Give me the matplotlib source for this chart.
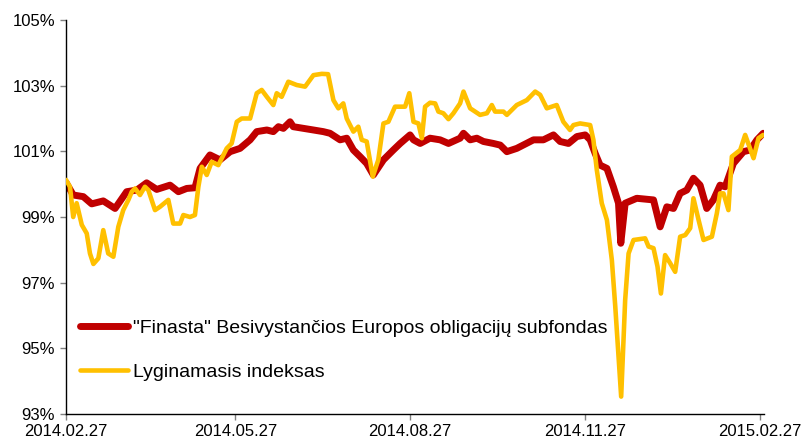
#!/usr/bin/env python3
# Finasta fondas vs lyginamasis indeksas, 2014.02.27 - 2015.02.27

import numpy as np
import pandas as pd
import matplotlib
matplotlib.use("Agg")
import matplotlib.pyplot as plt
import matplotlib.dates as mdates
from matplotlib.ticker import FuncFormatter

plt.rcParams['font.family'] = ['Liberation Sans', 'DejaVu Sans']

pradzia = pd.Timestamp("2014-02-27")

# dienos nuo 2014.02.27 ir reiksmes (%)
fondas_dienos = [0, 3.8, 9.1, 13.5, 19.6, 25.8, 31.9, 37.2, 42.4, 47.7, 54.7, 59.1,
                 63.5, 67.8, 70.5, 75.7, 81.0, 86.3, 91.5, 96.8, 100.3, 105.6, 109.0,
                 111.7, 114.3, 117.8, 119.5, 124.8, 130.1, 135.3, 138.8, 144.1, 147.6,
                 151.1, 154.6, 158.1, 161.6, 166.9, 172.1, 175.7, 180.9, 182.7, 186.2,
                 191.4, 196.7, 201.1, 207.2, 209.0, 212.5, 216.0, 219.5, 224.7, 228.3,
                 231.8, 237.0, 245.8, 251.0, 256.3, 259.8, 264.2, 268.6, 273.0, 275.6,
                 278.2, 280.8, 284.4, 287.8, 290.5, 291.7, 294.0, 300.1, 308.9, 312.4,
                 315.9, 319.4, 322.9, 326.4, 329.9, 333.4, 336.9, 340.4, 343.9, 346.6,
                 350.9, 356.2, 359.7, 363.3, 366.6]
fondas = [100.05, 99.67, 99.62, 99.40, 99.49, 99.26, 99.77, 99.82, 100.04, 99.84, 99.97,
          99.77, 99.87, 99.89, 100.48, 100.89, 100.74, 100.99, 101.09, 101.35, 101.60,
          101.65, 101.60, 101.75, 101.70, 101.90, 101.75, 101.70, 101.65, 101.60, 101.55,
          101.35, 101.40, 101.04, 100.84, 100.63, 100.28, 100.74, 101.04, 101.24, 101.50,
          101.35, 101.24, 101.40, 101.35, 101.24, 101.40, 101.55, 101.35, 101.40, 101.30,
          101.24, 101.19, 100.99, 101.09, 101.35, 101.35, 101.50, 101.30, 101.24, 101.45,
          101.50, 101.35, 100.94, 100.58, 100.48, 99.92, 99.42, 98.20, 99.42, 99.57,
          99.52, 98.70, 99.31, 99.26, 99.72, 99.82, 100.18, 99.97, 99.26, 99.52, 99.97,
          99.92, 100.63, 100.99, 101.04, 101.35, 101.55]

indeksas_dienos = [0, 2.1, 3.8, 5.6, 8.3, 10.9, 12.6, 14.4, 17.0, 19.6, 22.2, 24.9, 27.5,
                   30.1, 32.8, 34.6, 36.3, 38.9, 41.5, 43.3, 46.8, 49.4, 53.8, 56.4, 60.0,
                   61.7, 65.2, 67.8, 69.6, 71.4, 74.0, 76.6, 80.1, 84.5, 87.1, 89.8, 92.4,
                   96.8, 100.3, 102.9, 105.6, 109.0, 110.8, 113.4, 116.9, 121.3, 125.7,
                   130.1, 134.5, 137.8, 140.6, 143.2, 145.8, 147.6, 151.1, 153.7, 155.5,
                   158.1, 161.3, 164.2, 166.9, 169.5, 173.0, 178.3, 180.5, 182.7, 185.3,
                   187.1, 188.8, 191.4, 194.1, 195.8, 198.4, 201.1, 203.7, 207.2, 209.0,
                   212.5, 215.1, 217.7, 221.3, 223.9, 225.6, 230.0, 231.8, 234.4, 237.0,
                   242.3, 246.7, 249.3, 252.8, 258.0, 261.5, 265.0, 266.8, 270.3, 275.6,
                   277.3, 279.1, 281.7, 284.4, 287.0, 288.8, 291.9, 294.0, 295.8, 298.4,
                   304.5, 306.3, 308.9, 311.0, 312.8, 315.0, 317.7, 320.3, 322.9, 325.6,
                   328.2, 329.9, 332.6, 335.2, 339.6, 342.2, 343.9, 345.7, 348.3, 350.1,
                   354.5, 357.1, 361.5, 364.1, 366.6]
indeksas = [100.13, 99.92, 99.00, 99.42, 98.76, 98.50, 97.89, 97.57, 97.74, 98.60, 97.89,
            97.79, 98.70, 99.21, 99.52, 99.77, 99.87, 99.67, 99.92, 99.82, 99.21, 99.31,
            99.52, 98.80, 98.80, 99.06, 99.00, 99.06, 99.92, 100.53, 100.28, 100.68,
            100.58, 101.09, 101.24, 101.90, 102.00, 102.00, 102.77, 102.87, 102.66,
            102.41, 102.77, 102.66, 103.12, 103.02, 102.97, 103.32, 103.36, 103.35,
            102.56, 102.31, 102.46, 102.00, 101.60, 101.75, 101.35, 101.30, 100.23,
            100.74, 101.85, 101.90, 102.36, 102.36, 102.77, 101.90, 101.85, 101.40,
            102.36, 102.48, 102.46, 102.21, 102.16, 101.98, 102.16, 102.46, 102.82,
            102.31, 102.21, 102.11, 102.16, 102.41, 102.21, 102.21, 102.11, 102.26,
            102.41, 102.56, 102.82, 102.72, 102.31, 102.41, 101.90, 101.65, 101.80,
            101.85, 101.80, 101.35, 100.43, 99.42, 98.91, 97.69, 96.27, 93.53, 96.47,
            97.89, 98.30, 98.35, 98.10, 98.05, 97.49, 96.67, 97.84, 97.59, 97.33, 98.40,
            98.45, 98.66, 99.57, 98.91, 98.30, 98.40, 99.11, 99.72, 99.72, 99.21, 100.84,
            101.04, 101.50, 100.79, 101.40, 101.50]

etiketes = ['"Finasta" Besivystančios Europos obligacijų subfondas', 'Lyginamasis indeksas']
x_zymes = ["2014-02-27", "2014-05-27", "2014-08-27", "2014-11-27", "2015-02-27"]
y_zymes = [93, 95, 97, 99, 101, 103, 105]


def datos(dienos):
    return pradzia + pd.to_timedelta(np.array(dienos), unit="D")


fig = plt.figure(figsize=(8.02, 4.43), dpi=100)
ax = fig.add_axes([66 / 802, 1 - 414 / 443, 698 / 802, 394 / 443])

ax.plot(datos(fondas_dienos), fondas, color="#C00000", lw=5.0,
        solid_joinstyle="round", solid_capstyle="round", label=etiketes[0], zorder=2)
ax.plot(datos(indeksas_dienos), indeksas, color="#FFC000", lw=3.3,
        solid_joinstyle="round", solid_capstyle="round", label=etiketes[1], zorder=3)

ax.set_ylim(93, 105)
ax.set_yticks(y_zymes)
ax.yaxis.set_major_formatter(FuncFormatter(lambda v, p: "%d%%" % v))
ax.set_xlim(pradzia, pradzia + pd.Timedelta(days=367))
ax.set_xticks(pd.to_datetime(x_zymes))
ax.xaxis.set_major_formatter(mdates.DateFormatter("%Y.%m.%d"))

for s in ["top", "right"]:
    ax.spines[s].set_visible(False)
for s in ["left", "bottom"]:
    ax.spines[s].set_color("black")
    ax.spines[s].set_linewidth(1.0)
ax.tick_params(axis="both", labelsize=12, color="#808080", length=4, width=1)
ax.tick_params(axis="y", pad=4)
ax.tick_params(axis="x", pad=3)

ax.legend(loc="center left", bbox_to_anchor=(14 / 698, 0.162), frameon=False,
          fontsize=14, handlelength=2.47, handletextpad=0.26, labelspacing=1.37,
          borderpad=0, borderaxespad=0)

fig.savefig("out.png", dpi=100)
